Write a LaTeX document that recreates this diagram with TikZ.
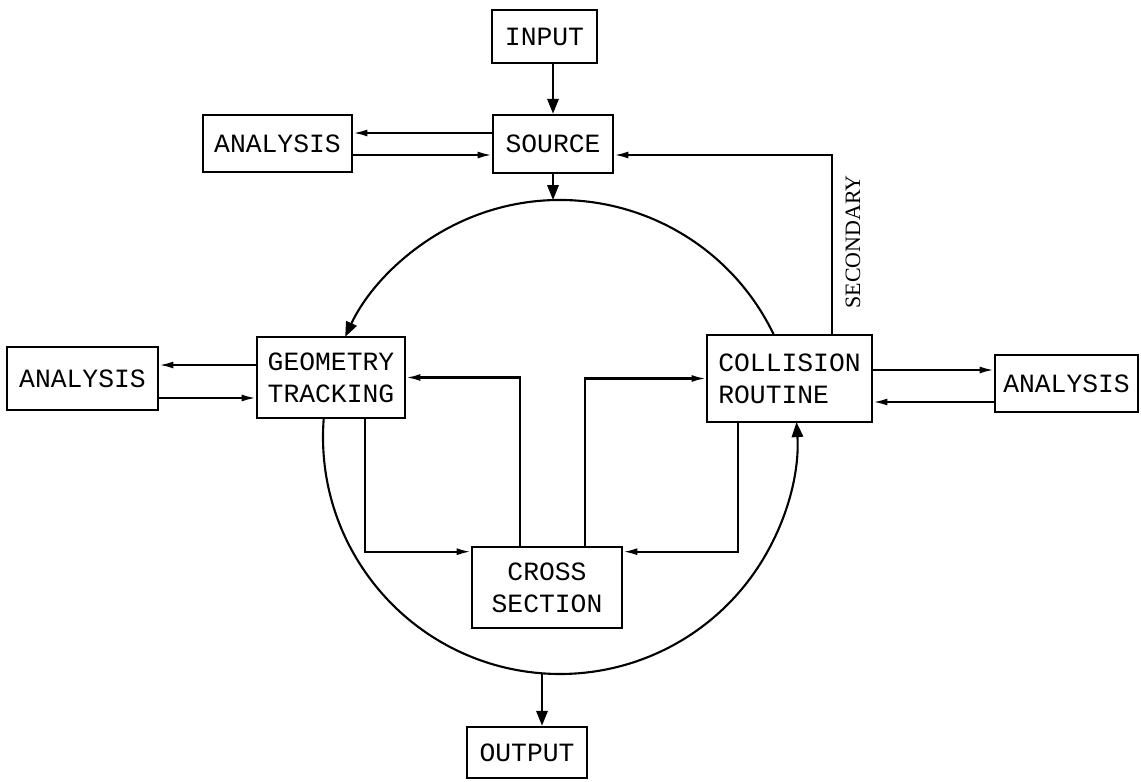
\documentclass[tikz,border=0pt]{standalone}
\usepackage{fontspec}
\setmonofont{Liberation Mono}
\setmainfont{Liberation Serif}
\usetikzlibrary{arrows.meta}
\tikzset{blk/.style={draw, line width=1.5pt, inner sep=0pt, align=left,
                     font=\ttfamily\fontsize{15}{18}\selectfont},
         sm/.style={-{Latex[length=8pt,width=4pt]}, line width=1.2pt},
         bg/.style={-{Triangle[length=8.5pt,width=6.5pt]}, line width=1.2pt},}

\begin{document}
\begin{tikzpicture}[x=0.02cm, y=0.02cm]
\useasboundingbox (0,0) rectangle (1141,-781);

\node [blk, minimum width=2.10cm, minimum height=1.06cm] (input)  at (544.5,-36.5)  {INPUT};
\node [blk, minimum width=2.40cm, minimum height=1.16cm] (source) at (553,-144)     {SOURCE};
\node [blk, minimum width=2.98cm, minimum height=1.14cm] (ana1)   at (277.5,-143.5) {ANALYSIS};
\node [blk, minimum width=3.02cm, minimum height=1.26cm] (ana2)   at (82.5,-378.5)  {ANALYSIS};
\node [blk, minimum width=2.96cm, minimum height=1.62cm] (geo)    at (331,-377.5)   {GEOMETRY\\TRACKING};
\node [blk, minimum width=3.30cm, minimum height=1.74cm] (coll)   at (789.5,-378.5) {COLLISION\\ROUTINE};
\node [blk, minimum width=2.86cm, minimum height=1.14cm] (ana3)   at (1066.5,-383.5) {ANALYSIS};
\node [blk, minimum width=3.00cm, minimum height=1.62cm, align=center] (cross) at (547,-587.5) {CROSS\\SECTION};
\node [blk, minimum width=2.40cm, minimum height=1.02cm] (output) at (527,-752.5)   {OUTPUT};
\node [rotate=90, font=\fontsize{12.5}{14}\selectfont] (second) at (853,-242) {SECONDARY};

% the tracking loop
\coordinate (ctr)  at (560,-437);
\coordinate (ctop) at (553,-200);
\coordinate (cbot) at (542,-673);
\draw [bg] ([shift={(25.5:237)}]ctr) arc [start angle=25.5, end angle=155, radius=237];
\draw [bg] ([shift={(175.4:237)}]ctr) arc [start angle=175.4, end angle=363.6, radius=237];

\draw [bg] (source.north |- input.south) to (source.north);
\draw [bg] (source.south) to (ctop);
\draw [bg] (cbot) to (cbot |- output.north);

\draw [sm] ([yshift=0.22cm]source.west) to ([yshift=0.22cm]source.west -| ana1.east);
\draw [sm] ([yshift=-0.22cm]source.west -| ana1.east) to ([yshift=-0.22cm]source.west);
\draw [sm] ([xshift=0.85cm]coll.north) |- ([yshift=-0.22cm]source.east);

\draw [sm] ([yshift=0.25cm]geo.west) to ([yshift=0.25cm]geo.west -| ana2.east);
\draw [sm] ([yshift=-0.41cm]geo.west -| ana2.east) to ([yshift=-0.41cm]geo.west);
\draw [sm] ([yshift=0.17cm]coll.east) to ([yshift=0.17cm]coll.east -| ana3.west);
\draw [sm] ([yshift=-0.47cm]coll.east -| ana3.west) to ([yshift=-0.47cm]coll.east);

\draw [sm] ([xshift=0.68cm]geo.south) |- ([yshift=-0.12cm]cross.north west);
\draw [sm] ([xshift=-1.03cm]coll.south) |- ([yshift=-0.12cm]cross.north east);
\draw [sm] ([xshift=-0.54cm]cross.north) |- (geo.east);
\draw [sm] ([xshift=0.76cm]cross.north) |- (coll.west);
\end{tikzpicture}
\end{document}
